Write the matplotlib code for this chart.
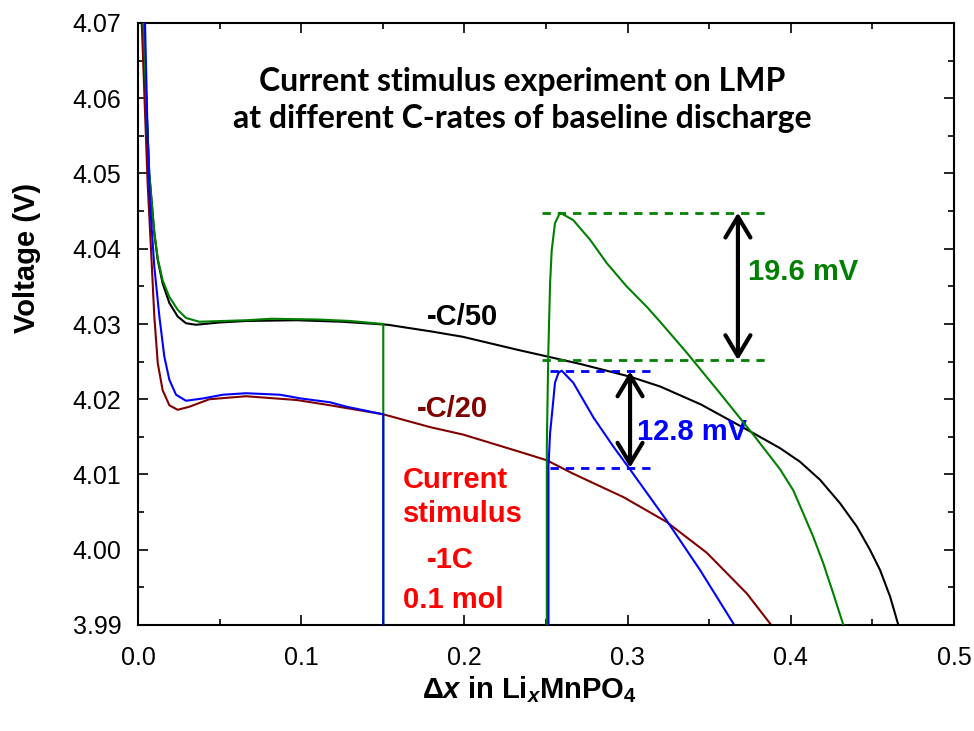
import numpy as np
import matplotlib
matplotlib.use("Agg")
import matplotlib.pyplot as plt
from matplotlib.ticker import MultipleLocator, FormatStrFormatter

plt.rcParams['font.family'] = ['Liberation Sans', 'DejaVu Sans']
plt.rcParams['mathtext.fontset'] = 'custom'
plt.rcParams['mathtext.rm'] = 'Liberation Sans:bold'
plt.rcParams['mathtext.it'] = 'Liberation Sans:bold:italic'
plt.rcParams['mathtext.bf'] = 'Liberation Sans:bold'

# -C/50 baseline discharge
x_c50 = [0.0033, 0.0053, 0.0069, 0.0100, 0.0121, 0.0151, 0.0192, 0.0243, 0.0294, 0.0355,
         0.0498, 0.0662, 0.097, 0.125, 0.153, 0.18, 0.199, 0.234, 0.2463, 0.2708, 0.3015,
         0.3199, 0.345, 0.377, 0.3934, 0.4056, 0.4179, 0.4301, 0.4404, 0.4485, 0.4547,
         0.4608, 0.4659]
v_c50 = [4.0700, 4.0584, 4.0500, 4.0421, 4.0385, 4.0354, 4.0328, 4.0310, 4.0301, 4.0299,
         4.0302, 4.0304, 4.0305, 4.0303, 4.0299, 4.0290, 4.0283, 4.0265, 4.0259, 4.0247, 4.0230,
         4.0217, 4.0193, 4.0155, 4.0135, 4.0117, 4.0093, 4.0062, 4.0031, 4.0000, 3.9973,
         3.9938, 3.9900]

# -C/50 with -1C stimulus (0.15 -> 0.25)
x_c50s = [0.0033, 0.0053, 0.0069, 0.0100, 0.0121, 0.0151, 0.0192, 0.0243, 0.0294, 0.0376,
          0.0662, 0.082, 0.11, 0.13, 0.1503, 0.1503, 0.2505, 0.2505, 0.2514, 0.2525,
          0.2535, 0.2555, 0.2586, 0.2667, 0.277, 0.2872, 0.2994, 0.3117, 0.3199, 0.3362,
          0.3566, 0.377, 0.3934, 0.4015, 0.4077, 0.4138, 0.4199, 0.426, 0.4322]
v_c50s = [4.0700, 4.0584, 4.0500, 4.0421, 4.0387, 4.0358, 4.0336, 4.0319, 4.0308, 4.0303,
          4.0305, 4.0307, 4.0306, 4.0304, 4.0300, 3.9800, 3.9800, 4.0136, 4.0261, 4.0354,
          4.0398, 4.0434, 4.0448, 4.0438, 4.0412, 4.0381, 4.0350, 4.0323, 4.0303, 4.0262,
          4.0208, 4.0153, 4.0107, 4.0079, 4.0048, 4.0017, 3.9982, 3.9942, 3.9900]

# -C/20 baseline discharge
x_c20 = [0.0023, 0.0059, 0.008, 0.0100, 0.0121, 0.0151, 0.0192, 0.0243, 0.0314, 0.0437,
         0.0662, 0.0972, 0.1176, 0.1503, 0.1789, 0.1993, 0.2341, 0.2504, 0.2667, 0.2974,
         0.3239, 0.3485, 0.373, 0.388]
v_c20 = [4.0700, 4.0487, 4.0398, 4.0310, 4.0248, 4.0212, 4.0192, 4.0186, 4.0190, 4.0200,
         4.0204, 4.0199, 4.0192, 4.0180, 4.0163, 4.0153, 4.0130, 4.0119, 4.0101, 4.0070,
         4.0037, 3.9996, 3.9942, 3.9900]

# -C/20 with -1C stimulus (0.15 -> 0.25)
x_c20s = [0.0043, 0.0058, 0.0072, 0.0100, 0.0131, 0.0161, 0.0192, 0.0233, 0.0294, 0.0396,
          0.0519, 0.0662, 0.087, 0.1, 0.1176, 0.1279, 0.1503, 0.1503, 0.2515, 0.2515,
          0.2525, 0.2545, 0.2555, 0.2576, 0.2596, 0.2667, 0.279, 0.2913, 0.3004, 0.3239,
          0.3444, 0.3648]
v_c20s = [4.0700, 4.0560, 4.0465, 4.0376, 4.0310, 4.0257, 4.0226, 4.0206, 4.0198, 4.0201,
          4.0206, 4.0208, 4.0206, 4.0201, 4.0196, 4.0190, 4.0180, 3.9800, 3.9800, 4.0110,
          4.0155, 4.0199, 4.0222, 4.0235, 4.0238, 4.0222, 4.0176, 4.0137, 4.0110, 4.0039,
          3.9973, 3.9902]

# relaxation peaks and their overpotential jumps (mV)
peak_c50, jump_c50 = 4.0448, 19.6
peak_c20, jump_c20 = 4.0237, 12.8

green = '#008000'
blue = '#0000ff'
darkred = '#800000'

fig = plt.figure(figsize=(9.74, 7.31), dpi=100)
ax = fig.add_axes([138/974, 106/731, 816/974, 602/731])

ax.plot(x_c50, v_c50, color='black', lw=1.5, zorder=3)
ax.plot(x_c20, v_c20, color=darkred, lw=1.5, zorder=2)
ax.plot(x_c50s, v_c50s, color=green, lw=1.5, zorder=4)
ax.plot(x_c20s, v_c20s, color=blue, lw=1.5, zorder=5)

# dashed guide lines at peak and baseline levels
base_c50 = peak_c50 - jump_c50 / 1000
base_c20 = peak_c20 - jump_c20 / 1000
for y in (peak_c50, base_c50):
    ax.plot([0.2473, 0.3873], [y, y], color=green, lw=2, ls=(0, (3, 2.5)), zorder=6)
for y in (peak_c20, base_c20):
    ax.plot([0.2525, 0.3178], [y, y], color=blue, lw=2, ls=(0, (3, 2.5)), zorder=6)

arrow = dict(arrowstyle='<->,head_length=0.75,head_width=0.45', lw=3, color='black',
             shrinkA=0, shrinkB=0, mutation_scale=20)
ax.annotate('', xy=(0.3676, peak_c50), xytext=(0.3676, base_c50), arrowprops=arrow, zorder=7)
ax.annotate('', xy=(0.3015, peak_c20), xytext=(0.3015, base_c20), arrowprops=arrow, zorder=7)

lbl = dict(fontsize=21, fontweight='bold', family=['Liberation Sans', 'DejaVu Sans'])
ax.text(0.3738, 4.0358, '%.1f mV' % jump_c50, color=green, ha='left', va='baseline', **lbl)
ax.text(0.3058, 4.0146, '%.1f mV' % jump_c20, color=blue, ha='left', va='baseline', **lbl)
ax.text(0.1991, 4.0299, '-C/50', color='black', ha='center', va='baseline', **lbl)
ax.text(0.1924, 4.0176, '-C/20', color=darkred, ha='center', va='baseline', **lbl)
ax.text(0.1624, 4.0082, 'Current', color='red', ha='left', va='baseline', **lbl)
ax.text(0.1624, 4.0037, 'stimulus', color='red', ha='left', va='baseline', **lbl)
ax.text(0.1771, 3.9976, '-1C', color='red', ha='left', va='baseline', **lbl)
ax.text(0.1624, 3.9923, '0.1 mol', color='red', ha='left', va='baseline', **lbl)

ttl = dict(fontsize=23, fontweight='bold', family=['Lato', 'DejaVu Sans'],
           ha='center', va='center', transform=ax.transAxes)
ax.text(0.4706, 0.902, 'Current stimulus experiment on LMP', **ttl)
ax.text(0.4706, 0.841, 'at different C-rates of baseline discharge', **ttl)

ax.set_xlim(0, 0.5)
ax.set_ylim(3.99, 4.07)
ax.xaxis.set_major_locator(MultipleLocator(0.1))
ax.xaxis.set_minor_locator(MultipleLocator(0.05))
ax.yaxis.set_major_locator(MultipleLocator(0.01))
ax.yaxis.set_minor_locator(MultipleLocator(0.005))
ax.xaxis.set_major_formatter(FormatStrFormatter('%.1f'))
ax.yaxis.set_major_formatter(FormatStrFormatter('%.2f'))
ax.tick_params(which='both', direction='in', top=True, right=True, width=1.2)
ax.tick_params(which='major', length=7, labelsize=18)
ax.tick_params(axis='x', which='major', pad=15)
ax.tick_params(axis='y', which='major', pad=12)
ax.tick_params(which='minor', length=4)
for s in ax.spines.values():
    s.set_linewidth(1.5)

ax.set_ylabel('Voltage (V)', fontsize=21, fontweight='bold', va='center')
ax.yaxis.set_label_coords(-0.136, 0.61)
ax.set_xlabel(r'Δ$\mathit{x}$ in Li$_\mathit{x}$MnPO$_4$', fontsize=21,
              fontweight='bold', va='center')
ax.xaxis.set_label_coords(0.48, -0.108)

fig.savefig('out.png', dpi=100)
